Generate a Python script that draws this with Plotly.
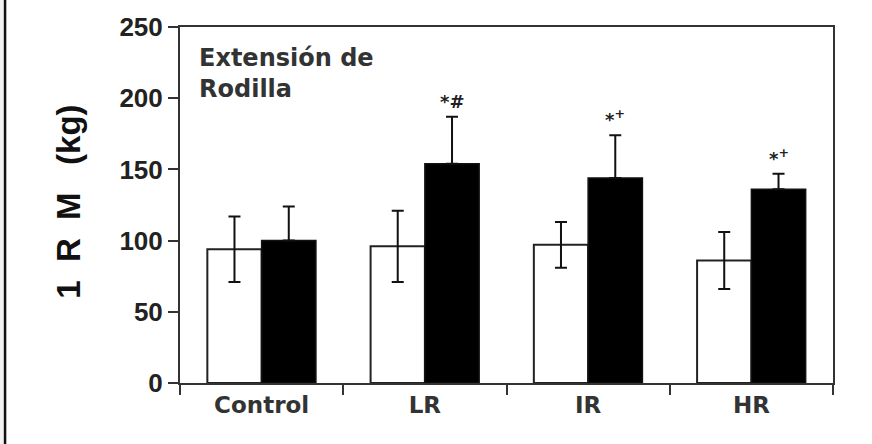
import plotly.graph_objects as go

categories = ["Control", "LR", "IR", "HR"]
pre_mean = [94, 96, 97, 86]
pre_sd = [23, 25, 16, 20]
post_mean = [100, 154, 144, 136]
post_sd = [24, 33, 30, 11]
post_marks = ["", "*#", "*<sup>+</sup>", "*<sup>+</sup>"]
y_ticks = [0, 50, 100, 150, 200, 250]

BARGAP = 0.335
half = (1 - BARGAP) / 4  # offset of each bar centre from category centre

fig = go.Figure()
fig.add_trace(go.Bar(
    x=categories, y=pre_mean, name="Pre",
    marker=dict(color="white", line=dict(color="#222", width=2)),
    error_y=dict(type="data", array=pre_sd, symmetric=True,
                 color="#111", thickness=2, width=6),
))
fig.add_trace(go.Bar(
    x=categories, y=post_mean, name="Post",
    marker=dict(color="black", line=dict(color="#111", width=1.5)),
    error_y=dict(type="data", array=post_sd, arrayminus=[0] * len(post_sd),
                 symmetric=False, color="#111", thickness=2, width=6),
))

for i, (m, s, t) in enumerate(zip(post_mean, post_sd, post_marks)):
    if t:
        fig.add_annotation(x=i + half, y=m + s, text="<b>" + t + "</b>", showarrow=False,
                           yanchor="bottom", yshift=3, xref="x", yref="y",
                           font=dict(family="DejaVu Sans", size=18, color="#222"))

fig.add_annotation(x=0.026, y=0.958, xref="paper", yref="paper",
                   xanchor="left", yanchor="top", align="left", showarrow=False,
                   text="<b>Extensión de<br>Rodilla</b>",
                   font=dict(family="DejaVu Sans", size=24, color="#333"))

fig.add_annotation(x=-0.171, y=0.51, xref="paper", yref="paper",
                   xanchor="center", yanchor="middle", textangle=-90, showarrow=False,
                   text="<b>1\u00a0\u00a0R\u00a0\u00a0M\u00a0\u00a0\u00a0(kg)</b>",
                   font=dict(family="Liberation Sans", size=33, color="#111"))

# left border line of the original figure crop
fig.add_shape(type="rect", xref="paper", yref="paper", x0=-0.2755, x1=-0.2679,
              y0=-0.2, y1=1.1, fillcolor="#f2f2f2", line=dict(width=0), layer="below")
fig.add_shape(type="line", xref="paper", yref="paper", x0=-0.2679, x1=-0.2679,
              y0=-0.2, y1=1.1, line=dict(color="#111", width=2.5))

fig.update_layout(
    width=872, height=444,
    margin=dict(l=180, r=39, t=27, b=61),
    paper_bgcolor="white", plot_bgcolor="white",
    barmode="group", bargap=BARGAP, bargroupgap=0,
    showlegend=False,
    xaxis=dict(
        type="category", range=[-0.5, 3.5],
        showline=True, linecolor="#333", linewidth=2, mirror=True,
        ticks="outside", tickson="boundaries", ticklen=10, tickwidth=2, tickcolor="#333",
        tickfont=dict(family="DejaVu Sans", size=23, color="#333", weight="bold"),
        showgrid=False, zeroline=False,
    ),
    yaxis=dict(
        range=[0, 250], tickvals=y_ticks,
        showline=True, linecolor="#333", linewidth=2, mirror=True,
        ticks="outside", ticklen=10, tickwidth=2, tickcolor="#333",
        tickfont=dict(family="Liberation Sans", size=26, color="#222", weight="bold"),
        showgrid=False, zeroline=False,
    ),
)

fig.write_html("out.html")
